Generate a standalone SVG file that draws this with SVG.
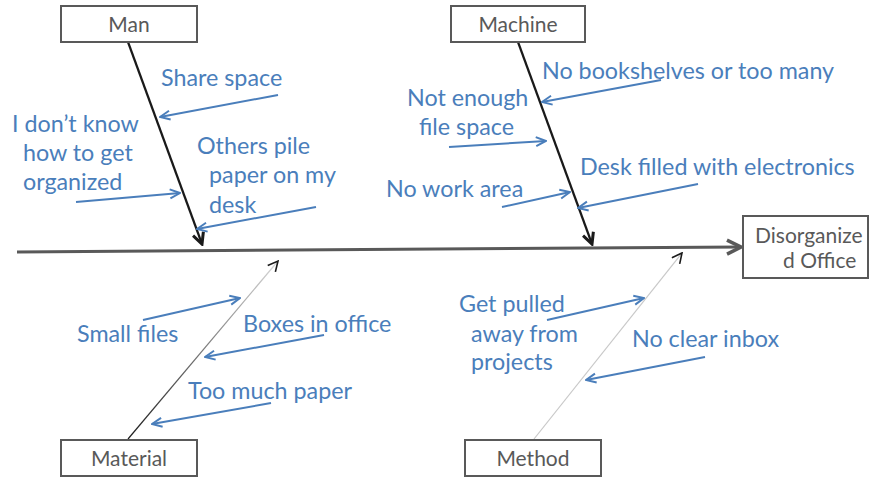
<svg xmlns="http://www.w3.org/2000/svg" width="870" height="477" viewBox="0 0 870 477">
  <style>
    .box { fill: #ffffff; stroke: #595959; stroke-width: 2; }
    .boxlabel { font-family: Lato, "Open Sans", "Liberation Sans", sans-serif; font-size: 21px; fill: #595959; }
    .cause { font-family: Lato, "Open Sans", "Liberation Sans", sans-serif; font-size: 23.3px; fill: #4a7ebb; }
    .pointer { stroke: #4a7ebb; stroke-width: 2; fill: none; marker-end: url(#blueHead); }
    .bone { fill: none; }
  </style>
  <defs>
    <marker id="blueHead" markerUnits="userSpaceOnUse" viewBox="0 0 12 12" refX="11" refY="6" markerWidth="12" markerHeight="12" orient="auto">
      <path d="M1,1.5 L11,6 L1,10.5" fill="none" stroke="#4a7ebb" stroke-width="2"/>
    </marker>
    <marker id="boneHead" markerUnits="userSpaceOnUse" viewBox="0 0 14 14" refX="12" refY="7" markerWidth="14" markerHeight="14" orient="auto">
      <path d="M1,1.5 L12,7 L1,12.5" fill="none" stroke="#1a1a1a" stroke-width="3"/>
    </marker>
    <marker id="thinHead" markerUnits="userSpaceOnUse" viewBox="0 0 12 12" refX="11" refY="6" markerWidth="12" markerHeight="12" orient="auto">
      <path d="M1,1 L11,6 L1,11" fill="none" stroke="#1a1a1a" stroke-width="1.6"/>
    </marker>
    <marker id="spineHead" markerUnits="userSpaceOnUse" viewBox="0 0 18 18" refX="16" refY="9" markerWidth="18" markerHeight="18" orient="auto">
      <path d="M2,2 L16,9 L2,16" fill="none" stroke="#595959" stroke-width="3.5"/>
    </marker>
    <linearGradient id="materialFade" gradientUnits="userSpaceOnUse" x1="128" y1="439" x2="278" y2="261">
      <stop offset="0" stop-color="#1a1a1a"/>
      <stop offset="1" stop-color="#d8d8d8"/>
    </linearGradient>
  </defs>

  <!-- spine, bones and cause pointers -->
  <g id="connectors">
    <line x1="17" y1="252" x2="741" y2="247" stroke="#595959" stroke-width="3" marker-end="url(#spineHead)"/>
    <line class="bone" x1="128" y1="42" x2="202" y2="244" stroke="#1a1a1a" stroke-width="2.2" marker-end="url(#boneHead)"/>
    <line class="bone" x1="518" y1="42" x2="592" y2="244" stroke="#1a1a1a" stroke-width="2.2" marker-end="url(#boneHead)"/>
    <line class="bone" x1="128" y1="439" x2="278" y2="261" stroke="url(#materialFade)" stroke-width="1.2" marker-end="url(#thinHead)"/>
    <line class="bone" x1="534" y1="439" x2="682" y2="253" stroke="#c8c8c8" stroke-width="1.2" marker-end="url(#thinHead)"/>

    <line class="pointer" x1="278" y1="95" x2="160" y2="117"/>
    <line class="pointer" x1="76" y1="202" x2="180" y2="193"/>
    <line class="pointer" x1="316" y1="207" x2="197" y2="229"/>

    <line class="pointer" x1="661" y1="80" x2="542" y2="102"/>
    <line class="pointer" x1="449" y1="147" x2="546" y2="141"/>
    <line class="pointer" x1="502" y1="207" x2="570" y2="192"/>
    <line class="pointer" x1="698" y1="184" x2="578" y2="208"/>

    <line class="pointer" x1="143" y1="320" x2="240" y2="298"/>
    <line class="pointer" x1="324" y1="335" x2="205" y2="357"/>
    <line class="pointer" x1="271" y1="403" x2="152" y2="424"/>

    <line class="pointer" x1="547" y1="320" x2="644" y2="298"/>
    <line class="pointer" x1="705" y1="357" x2="586" y2="380"/>
  </g>

  <g id="man">
    <rect class="box" x="61" y="6" width="136" height="36"/>
    <text class="boxlabel" x="129" y="32" text-anchor="middle">Man</text>
  </g>
  <g id="machine">
    <rect class="box" x="451" y="6" width="134" height="36"/>
    <text class="boxlabel" x="518" y="32" text-anchor="middle">Machine</text>
  </g>
  <g id="material">
    <rect class="box" x="61" y="440" width="136" height="36"/>
    <text class="boxlabel" x="129" y="466" text-anchor="middle">Material</text>
  </g>
  <g id="method">
    <rect class="box" x="465" y="440" width="136" height="36"/>
    <text class="boxlabel" x="533" y="466" text-anchor="middle">Method</text>
  </g>
  <g id="effect">
    <rect class="box" x="743" y="216" width="125" height="62"/>
    <text class="boxlabel" x="755" y="243">Disorganize</text>
    <text class="boxlabel" x="783" y="268">d Office</text>
  </g>

  <g id="man-causes">
    <text class="cause" x="161" y="86">Share space</text>
    <text class="cause" x="12" y="132">I don’t know</text>
    <text class="cause" x="23" y="161">how to get</text>
    <text class="cause" x="23" y="190">organized</text>
    <text class="cause" x="197" y="154">Others pile</text>
    <text class="cause" x="209" y="183">paper on my</text>
    <text class="cause" x="209" y="213">desk</text>
  </g>
  <g id="machine-causes">
    <text class="cause" x="542" y="79">No bookshelves or too many</text>
    <text class="cause" x="407" y="106">Not enough</text>
    <text class="cause" x="419" y="135">file space</text>
    <text class="cause" x="580" y="175">Desk filled with electronics</text>
    <text class="cause" x="386" y="197">No work area</text>
  </g>
  <g id="material-causes">
    <text class="cause" x="77" y="342">Small files</text>
    <text class="cause" x="243" y="332">Boxes in office</text>
    <text class="cause" x="188" y="399">Too much paper</text>
  </g>
  <g id="method-causes">
    <text class="cause" x="459" y="312">Get pulled</text>
    <text class="cause" x="471" y="342">away from</text>
    <text class="cause" x="471" y="370">projects</text>
    <text class="cause" x="632" y="347">No clear inbox</text>
  </g>
</svg>
